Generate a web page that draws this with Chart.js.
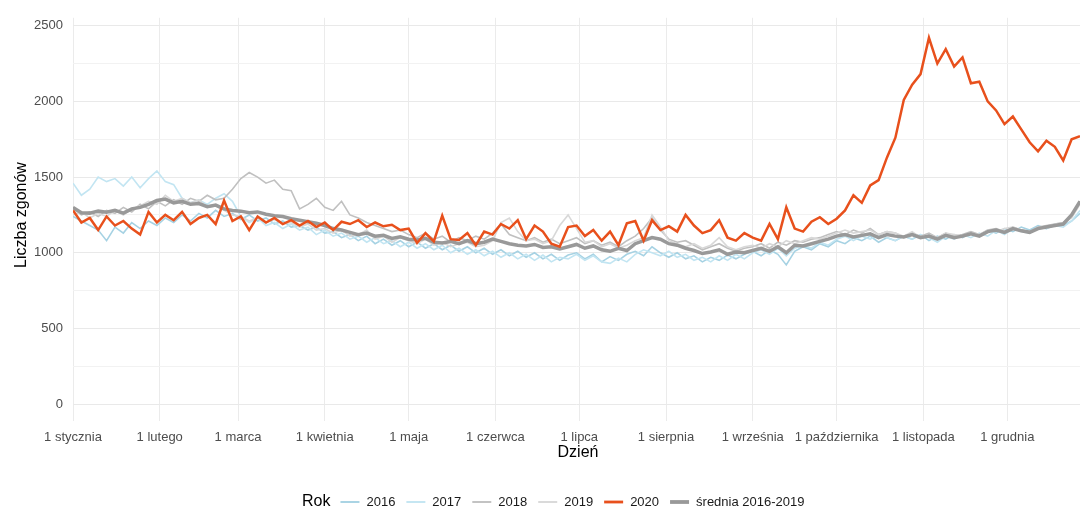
<!DOCTYPE html>
<html lang="pl">
<head>
<meta charset="utf-8">
<title>Liczba zgonów</title>
<script src="https://cdn.jsdelivr.net/npm/chart.js@4.4.1/dist/chart.umd.min.js"></script>
<style>
  html, body { margin: 0; padding: 0; background: #fff; }
  #wrap { width: 1080px; height: 519px; position: relative; }
</style>
</head>
<body>
<div id="wrap"><canvas id="chart"></canvas></div>
<script>
// day of year (0 = 1 stycznia), sampled every 3 days
const days = [
  0, 3, 6, 9, 12, 15, 18, 21, 24, 27,
  30, 33, 36, 39, 42, 45, 48, 51, 54, 57,
  60, 63, 66, 69, 72, 75, 78, 81, 84, 87,
  90, 93, 96, 99, 102, 105, 108, 111, 114, 117,
  120, 123, 126, 129, 132, 135, 138, 141, 144, 147,
  150, 153, 156, 159, 162, 165, 168, 171, 174, 177,
  180, 183, 186, 189, 192, 195, 198, 201, 204, 207,
  210, 213, 216, 219, 222, 225, 228, 231, 234, 237,
  240, 243, 246, 249, 252, 255, 258, 261, 264, 267,
  270, 273, 276, 279, 282, 285, 288, 291, 294, 297,
  300, 303, 306, 309, 312, 315, 318, 321, 324, 327,
  330, 333, 336, 339, 342, 345, 348, 351, 354, 357,
  360, 363
];

const monthDays = [0, 31, 59, 90, 120, 151, 181, 212, 243, 273, 304, 334];
const monthLabels = ['1 stycznia', '1 lutego', '1 marca', '1 kwietnia', '1 maja', '1 czerwca',
  '1 lipca', '1 sierpnia', '1 września', '1 października', '1 listopada', '1 grudnia'];
const yTicks = [0, 250, 500, 750, 1000, 1250, 1500, 1750, 2000, 2250, 2500];

const y2016 = [
  1240, 1210, 1180, 1150, 1080, 1170, 1130, 1200, 1160, 1210,
  1180, 1230, 1200, 1250, 1210, 1260, 1230, 1280, 1240, 1260,
  1220, 1250, 1210, 1230, 1190, 1210, 1170, 1180, 1150, 1170,
  1130, 1140, 1100, 1120, 1080, 1110, 1060, 1090, 1050, 1080,
  1040, 1070, 1030, 1060, 1020, 1050, 1010, 1040, 1000, 1030,
  990, 1020, 980, 1010, 970, 1000, 960, 990, 950, 985,
  1000, 960, 990, 940, 975, 950, 990, 1010, 980, 1040,
  1000, 970, 1000, 960, 980, 940, 970, 950, 985, 960,
  990, 1010, 980, 1020, 990, 920, 1010, 1040, 1020, 1060,
  1040, 1080, 1060, 1100, 1080, 1110, 1070, 1100, 1080, 1110,
  1090, 1120, 1080, 1110, 1090, 1120, 1100, 1130, 1110, 1150,
  1130, 1160, 1140, 1170, 1150, 1180, 1160, 1190, 1180, 1210,
  1260, 1300
];

const y2017 = [
  1460, 1380, 1420, 1500, 1470, 1490, 1440, 1500, 1430, 1490,
  1540, 1470, 1450, 1360, 1330, 1350, 1320, 1360, 1390, 1340,
  1240, 1200, 1230, 1180, 1200, 1160, 1190, 1150, 1170, 1120,
  1150, 1110, 1130, 1090, 1110, 1070, 1100, 1060, 1080, 1040,
  1070, 1030, 1060, 1020, 1050, 1000, 1030, 990, 1020, 980,
  1010, 970, 1000, 960, 990, 950, 985, 940, 970, 960,
  990, 950, 980, 940, 930, 965, 940, 990, 1020, 1000,
  980, 1010, 970, 990, 950, 970, 940, 980, 950, 990,
  960, 1000, 1020, 990, 1030, 980, 1030, 1050, 1030, 1070,
  1050, 1090, 1110, 1080, 1110, 1090, 1120, 1100, 1080, 1110,
  1090, 1120, 1100, 1070, 1110, 1090, 1120, 1100, 1130, 1110,
  1150, 1120, 1160, 1140, 1130, 1170, 1160, 1180, 1170, 1210,
  1280, 1320
];

const y2018 = [
  1290, 1250, 1270, 1240, 1280, 1260, 1300, 1270, 1320, 1290,
  1340, 1310, 1350, 1320, 1360, 1340, 1380, 1350, 1360, 1420,
  1490, 1530, 1500, 1460, 1480, 1420, 1410, 1290, 1320, 1360,
  1300, 1280, 1340, 1250, 1230, 1200, 1180, 1160, 1140, 1150,
  1120, 1100, 1130, 1090, 1110, 1070, 1100, 1080, 1110, 1090,
  1130, 1190, 1120, 1100, 1080, 1100, 1070, 1090, 1060, 1080,
  1100, 1060, 1080, 1050, 1070, 1040, 1080, 1110, 1160, 1230,
  1150, 1090, 1070, 1080, 1050, 1020, 1040, 1060, 1030, 1010,
  1030, 1040, 1060, 1030, 1070, 1050, 1080, 1070, 1090, 1100,
  1120, 1140, 1120, 1150, 1130, 1160, 1120, 1140, 1130, 1100,
  1130, 1110, 1130, 1100, 1130, 1110, 1120, 1140, 1120, 1150,
  1160, 1140, 1170, 1150, 1140, 1170, 1180, 1190, 1200, 1240,
  1340, 1360
];

const y2019 = [
  1250, 1270, 1230, 1260, 1240, 1280, 1250, 1290, 1310, 1340,
  1320, 1380, 1340, 1360, 1330, 1350, 1300, 1310, 1280, 1250,
  1240, 1210, 1230, 1200, 1220, 1190, 1200, 1170, 1190, 1150,
  1160, 1130, 1150, 1110, 1120, 1150, 1090, 1110, 1070, 1100,
  1080, 1060, 1090, 1050, 1070, 1040, 1060, 1070, 1040, 1050,
  1080, 1200, 1230, 1140, 1080, 1090, 1060, 1080, 1180, 1250,
  1160, 1070, 1080, 1040, 1060, 1030, 1050, 1080, 1100, 1250,
  1170, 1080, 1060, 1040, 1060, 1030, 1050, 1100, 1040, 1020,
  1040, 1050, 1030, 1060, 1040, 1080, 1060, 1080, 1100, 1090,
  1110, 1130, 1150, 1130, 1140, 1150, 1120, 1140, 1130, 1110,
  1140, 1100, 1120, 1100, 1130, 1120, 1110, 1130, 1120, 1150,
  1140, 1160, 1170, 1150, 1140, 1160, 1170, 1190, 1200, 1230,
  1320, 1340
];

const y2020 = [
  1280, 1200, 1230, 1150, 1240, 1180, 1210, 1160, 1120, 1270,
  1200, 1250, 1215, 1270, 1190, 1230, 1250, 1190, 1345, 1210,
  1240, 1150, 1240, 1200, 1230, 1190, 1215, 1180, 1210, 1170,
  1200, 1150, 1205, 1190, 1215, 1170, 1200, 1175, 1185, 1150,
  1160, 1065, 1130, 1075, 1245, 1090, 1085, 1130, 1050, 1140,
  1120, 1190, 1160, 1215, 1090, 1180, 1140, 1060, 1040, 1170,
  1180, 1110, 1150, 1080, 1140, 1050, 1195, 1210, 1080, 1215,
  1150, 1175, 1140, 1250, 1180, 1130, 1150, 1215, 1100, 1080,
  1130, 1100, 1080, 1190, 1090, 1300, 1160, 1140, 1205, 1235,
  1190, 1225, 1280, 1380, 1330, 1445, 1480, 1630, 1760, 2010,
  2110, 2180, 2420, 2250, 2345, 2230, 2290, 2120, 2130, 2000,
  1940, 1850, 1900, 1815, 1730, 1670, 1740, 1700, 1610, 1750,
  1770, 1790
];

const yAvg = [
  1300, 1265, 1262, 1275, 1268, 1280, 1262, 1290, 1300, 1320,
  1345, 1355, 1330, 1340, 1320, 1325, 1305, 1315, 1290, 1280,
  1275, 1265, 1270, 1255, 1245, 1240, 1225, 1215, 1205, 1195,
  1180, 1160, 1150, 1135, 1120, 1130, 1110, 1115, 1095, 1105,
  1090, 1085, 1095, 1070, 1065, 1075, 1060, 1080, 1060, 1070,
  1090, 1075, 1060, 1050, 1045, 1055, 1035, 1040, 1025, 1040,
  1055, 1030, 1045, 1020, 1010, 1030, 1015, 1060, 1080, 1100,
  1090, 1060, 1050, 1030, 1015, 995, 1005, 1020, 990, 1005,
  1000, 1015, 1030, 1010, 1040, 1000, 1050, 1045, 1060, 1075,
  1090, 1110, 1120, 1105, 1115, 1125, 1100, 1120, 1110, 1105,
  1120, 1100, 1110, 1090, 1115, 1100, 1110, 1125, 1110, 1140,
  1150, 1135, 1160, 1145, 1135, 1160, 1170, 1180, 1190, 1250,
  1340, 1345
];

function pts(values) {
  return days.map((d, i) => ({ x: d, y: values[i] }));
}

const series = [
  { label: '2016', data: y2016, color: '#a6d2e3', width: 1.6, order: 5 },
  { label: '2017', data: y2017, color: '#c2e5f2', width: 1.6, order: 4 },
  { label: '2018', data: y2018, color: '#c0c0c0', width: 1.6, order: 3 },
  { label: '2019', data: y2019, color: '#d8d8d8', width: 1.6, order: 2 },
  { label: '2020', data: y2020, color: '#e8501c', width: 2.5, order: 0 },
  { label: 'średnia 2016-2019', data: yAvg, color: '#999999', width: 3.5, order: 1 },
];

const FONT = '"Liberation Sans", Arial, sans-serif';

// axis titles and the legend, placed like the ggplot original
const decorations = {
  id: 'decorations',
  afterDraw(chart) {
    const ctx = chart.ctx;
    ctx.save();
    ctx.fillStyle = '#000';
    ctx.textBaseline = 'middle';

    ctx.font = '16px ' + FONT;
    ctx.textAlign = 'center';
    ctx.fillText('Dzień', 578, 453);

    ctx.save();
    ctx.translate(22, 215);
    ctx.rotate(-Math.PI / 2);
    ctx.fillText('Liczba zgonów', 0, 0);
    ctx.restore();

    // legend
    const ly = 502;
    let x = 302;
    ctx.textAlign = 'left';
    ctx.font = '16px ' + FONT;
    ctx.fillText('Rok', x, ly);
    x += ctx.measureText('Rok').width + 10;

    ctx.font = '13px ' + FONT;
    series.forEach((s) => {
      ctx.strokeStyle = s.color;
      ctx.lineWidth = s.width + 0.3;
      ctx.beginPath();
      ctx.moveTo(x, ly);
      ctx.lineTo(x + 19, ly);
      ctx.stroke();
      x += 19 + 7;
      ctx.fillStyle = '#1a1a1a';
      ctx.fillText(s.label, x, ly);
      x += ctx.measureText(s.label).width + 11;
    });
    ctx.restore();
  }
};

new Chart(document.getElementById('chart'), {
  type: 'line',
  data: {
    datasets: series.map((s) => ({
      label: s.label,
      data: pts(s.data),
      borderColor: s.color,
      borderWidth: s.width,
      pointRadius: 0,
      tension: 0,
      fill: false,
      order: s.order,
    })),
  },
  options: {
    responsive: true,
    maintainAspectRatio: false,
    animation: false,
    layout: { padding: { top: 14, right: 0, bottom: 0, left: 0 } },
    plugins: { legend: { display: false }, tooltip: { enabled: false } },
    scales: {
      x: {
        type: 'linear',
        min: 0,
        max: 360,
        border: { display: false },
        grid: { color: '#ebebeb', lineWidth: 1, drawTicks: false },
        afterBuildTicks: (scale) => { scale.ticks = monthDays.map((v) => ({ value: v })); },
        afterFit: (scale) => { scale.height = 98; },
        ticks: {
          autoSkip: false,
          maxRotation: 0,
          minRotation: 0,
          padding: 9,
          color: '#4d4d4d',
          font: { family: FONT, size: 13 },
          callback: (v) => monthLabels[monthDays.indexOf(v)] ?? '',
        },
      },
      y: {
        min: -111,
        max: 2552,
        border: { display: false },
        grid: {
          drawTicks: false,
          lineWidth: 1,
          color: (c) => (c.tick && c.tick.value % 500 === 0 ? '#e9e9e9' : '#f2f2f2'),
        },
        afterBuildTicks: (scale) => { scale.ticks = yTicks.map((v) => ({ value: v })); },
        afterFit: (scale) => { scale.width = 73; },
        ticks: {
          padding: 10,
          color: '#4d4d4d',
          font: { family: FONT, size: 13 },
          callback: (v) => (v % 500 === 0 ? String(v) : ''),
        },
      },
    },
  },
  plugins: [decorations],
});
</script>
</body>
</html>
